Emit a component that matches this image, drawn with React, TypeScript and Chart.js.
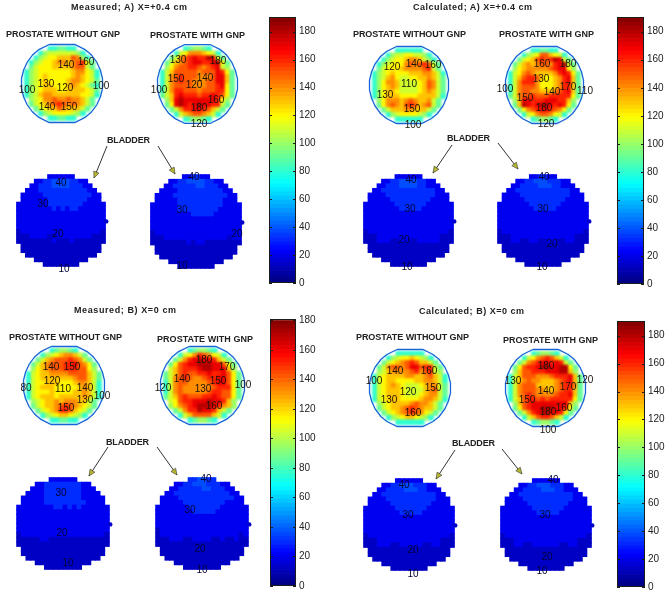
import React, { useEffect, useRef } from "react";
import { Chart, registerables } from "chart.js";
Chart.register(...registerables);

// Dose, one character per cell: base-20 tens of Gy ('a'=100 ... 'i'=180), '.' = outside the disc
const prostateMeasuredA_without = [
  ".....889988.....","...8abbbbbba8...","..8abccdddfea8..",".8abccdeedefgc9.",".9bcccddddeffb9.","8abcccccccdeecb8","8abcdcccccdedcb8","8abcdccccdeedcb9",
  "8abcddcccdedcb98","8abcdddccddddcb9","8abdeeddddddccb8",".abceefeefeedb9.",".9bcdefgfefedb9.","..9bcddfedddb9..","...8abccccba8...",".....889988.....",
];
const prostateMeasuredA_with = [
  ".....89aa98.....","...8bceeedcb8...","..9befghggihb9..",".9bdefghhgghic9.",".aceffggfefghba.","8bdfffffefffhgc9","8befgfffeeefhhd9","8befgffeeeffhhd9",
  "8beffffeeeffghc9","8beggfffefffggc9","9bdghgggfgghgfc9",".adhihhhhhhhgca.",".9chihghihhggb9.","..9begghhgfdb9..","...8bdeffedb8...",".....89aa98.....",
];
const prostateCalculatedA_without = [
  ".....888888.....","...8abbccbba8...","..8abccdeedba8..",".8abcccefefgfb9.",".9bcccdeeeefgb9.","8abcdcccdddeedb8","8abdecbbccddedb9","8aceedbbbbcdfeb9",
  "8acdedbbbbcdfeb9","8acddcbbbbcdedb9","8acdddccccddddb8",".aceeedefeddeb9.",".9cefedfgfdefb9.","..9bdddeedddb9..","...8abccccba8...",".....888888.....",
];
const prostateCalculatedA_with = [
  ".....889988.....","...8abcffdcb8...","..9bcdfgfgihb9..",".9bdedeffeghib9.",".acdeeeeefghhca.","8bcefeddddeghgc9","8bdfggfdccdeghd9","8begggecccdeghd9",
  "8befffecccdeggd9","8beffeedddefghd9","9beffgfffgggggc9",".adhhggghhhggda.",".9dihghiihghgc9.","..9cefghhgfec9..","...8bceffecb8...",".....89aa98.....",
];
const prostateMeasuredB_without = [
  ".....89aa98.....","...8abcdeedb9...","..9bdefffgfeb9..",".9bdefffgghfec9.",".acdefffgggffca.","8bcddeeeeffffdb9","8bcdddddddeffdb9","8bccdddcccdeedb8",
  "8bcdddcccccdedb8","8bcccdccccddedb8","8bcdddcdddddedb8",".abcddedeeeddb9.",".9bcddefgfedcb9.","..9bcdeggfdcb9..","...8abcddcba8...",".....889988.....",
];
const prostateMeasuredB_with = [
  ".....89aa98.....","...8bcegfecb8...","..9beghihhgdb9..",".9cfghhiiihhfc9.",".bdfggghiihhhda.","9bdfgffgghgghfc9","9befgfeefgghhfc9","8beffeeeefghhfc9",
  "8befeeeeeefgggc9","8befeeeeefggffc9","9bdfgfffgghgffc9",".bcfgghhhihhgda.",".acefghiiihgeda.","..9beggihhgdb9..","...8bdffffdb8...",".....89aa98.....",
];
const prostateCalculatedB_without = [
  ".....888888.....","...8abccdcba8...","..9bcdefgfddb9..",".9beffefhhfggb9.",".abdeeeefgefgba.","8bcddddeeddefdb8","8bcddccccddeedb8","8bcdedcbbbcdeeb9",
  "8bcdddcbbbbdefb9","8bcdddcbbbcdeeb9","8bcdddccccdeedb8",".abcddddefeedb9.",".9bcddefgfeddb9.","..9bcdefgfecb9..","...8abcddcba8...",".....888888.....",
];
const prostateCalculatedB_with = [
  ".....89aa98.....","...8bcefgfdb8...","..9befghhghgb9..",".9cfgghiihhiic9.",".adffggghhhiida.","8bdfffeeefggghd9","8bdefeedddefghd9","8befffddddefgge9",
  "8befffeeddefggd9","8befgfeeeefgghd9","8bdfggfgfgggggc9",".adfghhhhhhhhda.",".9cfghhiiihhgc9.","..9beghiihhgc9..","...8bdfggfdb8...",".....89aa98.....",
];

// Bladder maps: each digit is an index into bladderDose
const bladderDose = [0, 13, 21, 32, 38];
const bladderMiddleRows = ["22222222222222222222","22222222222222222222","22222222222222222222","22222222222222222222"];
const bladderFloorRows = [".111111111111111111.",".111111111111111111.","..1111111111111111..","....111111111111....","......11111111......"];
const bladderMeasuredA_without = [
  ".......222222.......","....223344443322....","...22333444433322...","..2223333333333322..",".222223333333333322.",".222222333333333222.","22222223333333322222",
  "22222222323233222222",...bladderMiddleRows,"12222222222222222221","11122221122222222111","11111111211121111111",...bladderFloorRows,
];
const bladderMeasuredA_with = [
  ".......223322.......","....223344443322....","...22333334433322...","..2222333333333322..",".222233333333333322.",".222223333333333222.","22222233333333332222",
  "22222233333333322222","22222222233333222222",...bladderMiddleRows.slice(1),"12222222222222222222","11122222222222222122","11111111212211111111",...bladderFloorRows,
];
const bladderCalculatedA_without = [
  ".......222222.......","....223344443322....","...22333444433222...","..2233333333333322..",".222233333333333222.",".222223333333332222.","22222223333333222222",
  "22222222333332222222",...bladderMiddleRows,"12222222222222222221","11122222222222222111","11122211221122222111",...bladderFloorRows,
];
const bladderCalculatedA_with = [
  ".......223322.......","....223344433322....","...22333344433222...","..2233333333333322..",".222233333333333222.",".222223333333332222.","22222223333333222222",
  "22222222333332222222",...bladderMiddleRows,"12222222222222222221","11122222222222222111","11122112211221122111",...bladderFloorRows,
];
const bladderMeasuredB_without = [
  ".......222222.......","....223333333322....","...22233333333222...","..2222333333332222..",".222223333333322222.",".222223333333332222.","22222222332323222222",
  "22222222222222222222",...bladderMiddleRows,"12222222222222222221","11111221111111111111","11111111111111111111",...bladderFloorRows,
];
const bladderMeasuredB_with = [
  ".......334433.......","....223344433322....","...22333334433322...","..2233333333333322..",".222233333333333322.",".222223333333332222.","22222223333333222222",
  "22222222333332222222",...bladderMiddleRows.slice(1),"12222222222222222222","12222222222222222212","11122211222211211211","11111111111111111111",...bladderFloorRows,
];
const bladderCalculatedB_without = [
  ".......222222.......","....223344433322....","...22333344433222...","..2233333333333322..",".222233333333333222.",".222223333333332222.","22222223333333222222",
  "22222222333332222222",...bladderMiddleRows,"12222222222222222221","11122222222222222111","11122211222221122111",...bladderFloorRows,
];
const bladderCalculatedB_with = [
  ".......222222.......","....223344433322....","...22333344433222...","..2233333333333322..",".222233333333333222.",".222223333333332222.","22222223333333222222",
  "22222222333332222222",...bladderMiddleRows,"12222222222222222221","11122222222222222111","11122112222221122111",...bladderFloorRows,
];

// Thin blue rim round each prostate disc and the small nub on the bladder's right side, in cell units
const prostateRim = [[5.5,0.3],[10.5,0.3],[12.5,1.3],[13.7,2.3],[14.8,3.8],[15.5,5.4],[15.9,7],[15.9,9],[15.5,10.6],[14.8,12.2],[13.7,13.7],[12.5,14.7],[10.5,15.7],[5.5,15.7],[3.5,14.7],[2.3,13.7],[1.2,12.2],[0.5,10.6],[0.1,9],[0.1,7],[0.5,5.4],[1.2,3.8],[2.3,2.3],[3.5,1.3],[5.5,0.3]];
const bladderNub = [[20.2, 10.2]];

const FONT = '"Liberation Sans", Arial, sans-serif';

function jet(v: number) {
  const t = Math.max(0, Math.min(1, v / 190));
  const c = (x: number) => Math.round(255 * Math.max(0, Math.min(1, 1.5 - Math.abs(4 * t - x))));
  return `rgb(${c(3)},${c(2)},${c(1)})`;
}

function mapOptions(n: number, cx: number, cy: number, m: number): any {
  return {
    animation: false, responsive: false, events: [],
    layout: { padding: 0 },
    plugins: { legend: { display: false }, tooltip: { enabled: false } },
    scales: {
      x: { type: "linear", display: false, min: -m / cx, max: n + m / cx },
      y: { type: "linear", display: false, reverse: true, min: -m / cy, max: n + m / cy },
    },
  };
}

function DoseMap({ rows, box, kind }: { rows: string[]; box: number[]; kind: "prostate" | "bladder" }) {
  const ref = useRef<HTMLCanvasElement>(null);
  const rimRef = useRef<HTMLCanvasElement>(null);
  const [l, t, r, b] = box;
  const m = 5;
  useEffect(() => {
    const n = rows.length;
    const cx = (r - l) / n, cy = (b - t) / n;
    const pts: any[] = [], colors: string[] = [];
    rows.forEach((row, y) => {
      [...row].forEach((ch, x) => {
        if (ch === ".") return;
        const v = kind === "prostate" ? parseInt(ch, 20) * 10 : bladderDose[+ch];
        pts.push({ x: x + 0.5, y: y + 0.5 });
        colors.push(jet(v));
      });
    });
    const datasets: any[] = [
      { data: pts, backgroundColor: colors, borderWidth: 0, pointStyle: "rect", pointRadius: (Math.max(cx, cy) + 0.5) * 0.7072, clip: false },
    ];
    const rimSet: any = kind === "prostate"
      ? { data: prostateRim.map(([x, y]) => ({ x, y })), showLine: true, pointRadius: 0, borderColor: "rgb(25,100,215)", borderWidth: 1.3, fill: false, clip: false }
      : { data: bladderNub.map(([x, y]) => ({ x, y })), pointRadius: 2.2, backgroundColor: "rgb(0,0,200)", borderWidth: 0, clip: false };
    const chart = new Chart(ref.current!, { type: "scatter", data: { datasets }, options: mapOptions(n, cx, cy, m) });
    const rim = new Chart(rimRef.current!, { type: "scatter", data: { datasets: [rimSet] }, options: mapOptions(n, cx, cy, m) });
    return () => { chart.destroy(); rim.destroy(); };
  }, []);
  const w = r - l + 2 * m, h = b - t + 2 * m;
  return (
    <>
      <canvas ref={ref} width={w} height={h}
        style={{ position: "absolute", left: l - m, top: t - m, filter: kind === "prostate" ? "blur(0.9px)" : "blur(0.3px)" }} />
      <canvas ref={rimRef} width={w} height={h} style={{ position: "absolute", left: l - m, top: t - m }} />
    </>
  );
}

const barFrame = {
  id: "barFrame",
  afterDraw(c: any) {
    const { ctx, chartArea: a, scales } = c;
    ctx.save();
    ctx.strokeStyle = "#1c1c1c";
    ctx.lineWidth = 1;
    ctx.strokeRect(a.left + 0.5, a.top + 0.5, a.right - a.left - 1, a.bottom - a.top - 1);
    scales.y.ticks.forEach((_: any, i: number) => {
      const p = Math.round(scales.y.getPixelForTick(i)) + 0.5;
      ctx.beginPath();
      ctx.moveTo(a.left, p); ctx.lineTo(a.left + 3, p);
      ctx.moveTo(a.right, p); ctx.lineTo(a.right - 3, p);
      ctx.stroke();
    });
    ctx.restore();
  },
};

const colorLevelCount = 64;
function ColorBar({ box, top: topValue, axisMax }: { box: number[]; top: number; axisMax: number }) {
  const ref = useRef<HTMLCanvasElement>(null);
  const [l, t, r, b] = box;
  const pad = 6, right = 24;
  useEffect(() => {
    const datasets = Array.from({ length: colorLevelCount }, (_, i) => ({
      data: [topValue / colorLevelCount],
      backgroundColor: jet(((i + 0.5) / colorLevelCount) * 190),
      borderWidth: 0, barPercentage: 1, categoryPercentage: 1,
    }));
    const chart = new Chart(ref.current!, {
      type: "bar",
      data: { labels: ["dose"], datasets },
      options: {
        animation: false, responsive: false, events: [],
        layout: { padding: { top: pad, bottom: pad, left: 0, right: 0 } },
        plugins: { legend: { display: false }, tooltip: { enabled: false } },
        scales: {
          x: { stacked: true, display: false },
          y: {
            stacked: true, position: "right", min: 0, max: axisMax,
            grid: { display: false, drawTicks: false, tickLength: 0 }, border: { display: false },
            afterFit: (s: any) => { s.width = right; },
            ticks: { stepSize: 20, includeBounds: false, padding: 3, color: "#222", font: { family: FONT, size: 10 } },
          },
        },
      },
      plugins: [barFrame],
    } as any);
    return () => chart.destroy();
  }, []);
  return <canvas ref={ref} width={r - l + right} height={b - t + 2 * pad} style={{ position: "absolute", left: l, top: t - pad }} />;
}

// Page furniture
const headings: [string, number, number, number][] = [
  ["Measured; A) X=+0.4 cm", 71, 10, 116], ["Calculated; A) X=+0.4 cm", 413, 10, 119],
  ["Measured; B) X=0 cm", 74, 313, 102], ["Calculated; B) X=0 cm", 419, 314, 105],
];
const panelTitles: [string, number, number, number][] = [
  ["PROSTATE WITHOUT GNP", 6, 37, 114], ["PROSTATE WITH GNP", 150, 38, 95],
  ["PROSTATE WITHOUT GNP", 353, 37, 113], ["PROSTATE WITH GNP", 499, 37, 95],
  ["PROSTATE WITHOUT GNP", 9, 340, 113], ["PROSTATE WITH GNP", 157, 342, 96],
  ["PROSTATE WITHOUT GNP", 356, 340, 113], ["PROSTATE WITH GNP", 503, 343, 95],
];
const bladderTitles: [number, number][] = [[107, 143], [447, 141], [106, 445], [452, 446]];
const arrows: number[][] = [
  [107, 146, 94, 178], [158, 146, 175, 174], [452, 145, 433, 173], [498, 143, 518, 169],
  [108, 447, 89, 476], [157, 447, 177, 475], [455, 450, 436, 479], [502, 449, 522, 474],
];
const prostateLabels: [string, number, number][] = [
  ["140",66,64],["160",86,61],["130",46,83],["120",65,87],["100",101,85],["100",27,89],["140",47,106],["150",69,106],
  ["130",178,59],["180",218,60],["150",176,78],["140",205,77],["120",194,84],["100",159,89],["160",216,99],["180",199,107],["120",199,123],
  ["120",392,66],["140",414,63],["160",433,64],["110",409,83],["130",385,94],["150",412,108],["100",413,124],
  ["160",542,63],["180",568,63],["130",541,78],["100",505,88],["170",568,86],["110",585,90],["140",552,91],["150",525,97],["180",544,107],["120",546,123],
  ["140",51,366],["150",72,366],["120",52,380],["110",63,388],["140",85,387],["80",26,387],["130",85,399],["100",102,395],["150",66,407],
  ["180",204,359],["170",227,366],["140",182,378],["150",218,380],["100",243,384],["120",163,387],["130",203,388],["160",214,405],
  ["140",395,370],["160",429,370],["100",374,380],["150",433,387],["120",408,391],["130",389,399],["160",413,412],
  ["180",546,365],["130",513,380],["120",585,379],["170",568,386],["140",546,390],["150",527,399],["160",564,407],["180",548,411],["100",548,429],
];
const bladderLabels: [string, number, number][] = [
  ["40",61,182],["30",43,203],["20",58,233],["10",64,268],
  ["40",194,176],["30",182,209],["20",237,233],["10",182,265],
  ["40",411,179],["30",410,208],["20",404,239],["10",407,266],
  ["40",544,176],["30",543,208],["20",552,243],["10",542,266],
  ["30",61,492],["20",62,532],["10",68,562],
  ["40",206,478],["30",190,509],["20",200,548],["10",202,569],
  ["40",404,484],["30",408,514],["20",413,549],["10",413,573],
  ["40",553,479],["30",545,514],["20",547,556],["10",542,570],
];

function Overlay() {
  return (
    <svg width={666} height={611} style={{ position: "absolute", left: 0, top: 0 }} fontFamily={FONT}>
      {headings.map(([s, x, y, w], i) => (
        <text key={i} x={x} y={y} fontSize={9} fontWeight="bold" fill="#222" textLength={w} lengthAdjust="spacing">{s}</text>
      ))}
      {panelTitles.map(([s, x, y, w], i) => (
        <text key={i} x={x} y={y} fontSize={9} fontWeight="bold" fill="#222" textLength={w} lengthAdjust="spacing">{s}</text>
      ))}
      {bladderTitles.map(([x, y], i) => (
        <text key={i} x={x} y={y} fontSize={9} fontWeight="bold" fill="#222" textLength={43} lengthAdjust="spacing">BLADDER</text>
      ))}
      {arrows.map(([x1, y1, x2, y2], i) => {
        const a = Math.atan2(y2 - y1, x2 - x1), h = 7, s = 0.42;
        const p = (d: number) => `${x2 - h * Math.cos(a + d)},${y2 - h * Math.sin(a + d)}`;
        return (
          <g key={i}>
            <line x1={x1} y1={y1} x2={x2} y2={y2} stroke="#333" strokeWidth={1} />
            <polygon points={`${x2},${y2} ${p(s)} ${p(-s)}`} fill="#b8b830" stroke="#333" strokeWidth={0.6} />
          </g>
        );
      })}
      {prostateLabels.map(([s, x, y], i) => (
        <text key={i} x={x} y={y + 3.5} fontSize={10} fill="#1a1408" textAnchor="middle">{s}</text>
      ))}
      {bladderLabels.map(([s, x, y], i) => (
        <text key={i} x={x} y={y + 3.5} fontSize={10} fill="#000035" textAnchor="middle">{s}</text>
      ))}
    </svg>
  );
}

export default function App() {
  return (
    <div style={{ position: "absolute", left: 0, top: 0, width: 666, height: 611, background: "#fff", overflow: "hidden", filter: "blur(0.4px)" }}>
      <DoseMap kind="prostate" rows={prostateMeasuredA_without} box={[21, 43, 103, 124]} />
      <DoseMap kind="prostate" rows={prostateMeasuredA_with} box={[157, 43, 238, 125]} />
      <DoseMap kind="prostate" rows={prostateCalculatedA_without} box={[369, 45, 449, 125]} />
      <DoseMap kind="prostate" rows={prostateCalculatedA_with} box={[505, 45, 584, 125]} />
      <DoseMap kind="prostate" rows={prostateMeasuredB_without} box={[23, 345, 105, 426]} />
      <DoseMap kind="prostate" rows={prostateMeasuredB_with} box={[160, 345, 245, 426]} />
      <DoseMap kind="prostate" rows={prostateCalculatedB_without} box={[369, 348, 451, 428]} />
      <DoseMap kind="prostate" rows={prostateCalculatedB_with} box={[505, 348, 586, 428]} />
      <DoseMap kind="bladder" rows={bladderMeasuredA_without} box={[13, 171, 109, 270]} />
      <DoseMap kind="bladder" rows={bladderMeasuredA_with} box={[147, 171, 245, 272]} />
      <DoseMap kind="bladder" rows={bladderCalculatedA_without} box={[360, 171, 457, 270]} />
      <DoseMap kind="bladder" rows={bladderCalculatedA_with} box={[494, 171, 592, 270]} />
      <DoseMap kind="bladder" rows={bladderMeasuredB_without} box={[13, 474, 113, 573]} />
      <DoseMap kind="bladder" rows={bladderMeasuredB_with} box={[152, 474, 252, 573]} />
      <DoseMap kind="bladder" rows={bladderCalculatedB_without} box={[360, 475, 458, 574]} />
      <DoseMap kind="bladder" rows={bladderCalculatedB_with} box={[497, 475, 595, 574]} />
      <ColorBar box={[269, 14, 296, 286]} top={190} axisMax={190.5} />
      <ColorBar box={[617, 14, 644, 287]} top={190} axisMax={190.5} />
      <ColorBar box={[270, 316, 296, 589]} top={180} axisMax={181} />
      <ColorBar box={[617, 318, 645, 590]} top={190} axisMax={190.5} />
      <Overlay />
    </div>
  );
}
